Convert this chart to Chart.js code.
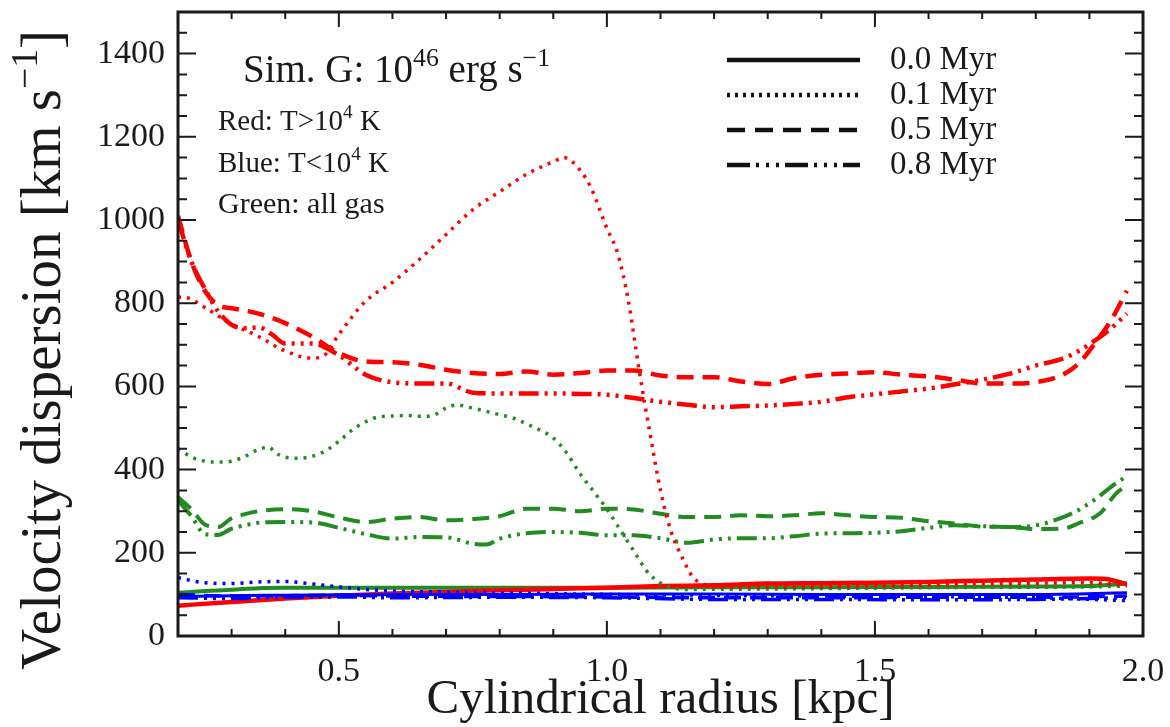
<!DOCTYPE html>
<html>
<head>
<meta charset="utf-8">
<title>Velocity dispersion vs cylindrical radius</title>
<script src="https://cdn.jsdelivr.net/npm/chart.js@4.4.1/dist/chart.umd.min.js"></script>
<style>
  html, body { margin: 0; padding: 0; background: #ffffff; }
  #wrap { width: 1170px; height: 727px; position: relative; }
</style>
</head>
<body>
<div id="wrap"><canvas id="chart"></canvas></div>
<script>
// ---- data: velocity dispersion [km/s] against cylindrical radius [kpc] ----
const snapshotTimes = ['0.0 Myr', '0.1 Myr', '0.5 Myr', '0.8 Myr'];
const xTickValues = [0.5, 1.0, 1.5, 2.0];
const yTickValues = [0, 200, 400, 600, 800, 1000, 1200, 1400];

// hot gas, T > 1e4 K (red)
const rRed00 = [0.20,0.30,0.40,0.50,0.60,0.70,0.80,0.90,1.00,1.10,1.20,1.30,1.40,1.50,1.60,1.70,1.80,1.90,1.93,1.97];
const vRed00 = [73,82,90,97,102,106,110,113,116,120,122,126,127,128,130,133,136,138,137,125];
const rRed01 = [0.20,0.22,0.25,0.30,0.35,0.40,0.45,0.47,0.50,0.55,0.60,0.65,0.70,0.75,0.80,0.85,0.90,0.92,0.95,0.97,1.00,1.02,1.04,1.06,1.08,1.10,1.12,1.14,1.16,1.18,1.20,1.30,1.50,1.70,1.90,1.97];
const vRed01 = [815,812,790,750,720,685,668,672,725,805,850,905,965,1025,1068,1110,1140,1150,1120,1078,980,920,806,640,490,350,250,190,142,125,118,118,120,125,128,122];
const rRed05 = [0.20,0.225,0.25,0.275,0.30,0.35,0.40,0.45,0.50,0.55,0.60,0.65,0.70,0.75,0.80,0.85,0.90,0.95,1.00,1.05,1.10,1.15,1.20,1.25,1.30,1.35,1.40,1.45,1.50,1.55,1.60,1.65,1.70,1.75,1.80,1.85,1.88,1.91,1.94,1.97];
const vRed05 = [1010,900,830,795,788,775,752,720,680,660,658,652,640,632,630,636,628,632,638,638,626,622,622,612,606,620,628,631,634,628,624,616,607,607,610,628,655,703,758,830];
const rRed08 = [0.20,0.225,0.25,0.275,0.30,0.325,0.35,0.375,0.40,0.45,0.50,0.55,0.60,0.65,0.70,0.75,0.80,0.85,0.90,0.95,1.00,1.05,1.10,1.15,1.20,1.25,1.30,1.35,1.40,1.45,1.50,1.55,1.60,1.65,1.70,1.75,1.80,1.85,1.88,1.91,1.94,1.97];
const vRed08 = [1000,900,835,780,748,740,742,725,703,703,675,628,610,607,607,585,583,583,583,582,580,572,563,556,550,552,554,558,563,574,581,588,595,605,616,630,650,667,685,710,739,775];

// cold gas, T < 1e4 K (blue)
const rBlu00 = [0.20,0.30,0.40,0.50,0.60,0.80,1.00,1.20,1.40,1.60,1.80,1.97];
const vBlu00 = [95,97,98,99,100,100,101,101,100,100,100,104];
const rBlu01 = [0.20,0.25,0.30,0.35,0.40,0.45,0.50,0.55,0.60,0.70,0.80,0.90,1.00,1.20,1.40,1.60,1.80,1.97];
const vBlu01 = [140,128,126,130,131,125,118,112,108,106,104,102,100,98,96,95,92,85];
const rBlu05 = [0.20,0.30,0.40,0.50,0.60,0.80,1.00,1.20,1.40,1.60,1.80,1.97];
const vBlu05 = [100,96,97,98,96,95,94,92,92,93,93,96];
const rBlu08 = [0.20,0.30,0.40,0.50,0.60,0.80,1.00,1.20,1.40,1.60,1.80,1.97];
const vBlu08 = [92,90,93,94,92,93,92,88,88,87,88,92];

// all gas (green)
const rGrn00 = [0.20,0.25,0.30,0.35,0.40,0.50,0.60,0.70,0.80,0.90,1.00,1.20,1.40,1.60,1.80,1.90,1.97];
const vGrn00 = [104,108,111,115,116,116,116,116,116,116,116,117,117,118,119,120,126];
const rGrn01 = [0.20,0.225,0.25,0.275,0.30,0.325,0.35,0.37,0.38,0.40,0.42,0.45,0.475,0.50,0.525,0.55,0.575,0.60,0.625,0.65,0.675,0.70,0.72,0.75,0.775,0.80,0.825,0.85,0.875,0.90,0.925,0.95,0.975,1.00,1.025,1.05,1.075,1.10,1.125,1.15,1.30,1.50,1.70,1.90,1.97];
const vGrn01 = [451,430,420,418,420,432,448,454,442,430,427,432,445,468,495,515,527,529,530,528,530,548,555,548,540,532,524,510,495,476,440,390,348,305,255,205,155,127,115,112,113,115,117,118,120];
const rGrn05 = [0.20,0.225,0.25,0.275,0.30,0.325,0.35,0.40,0.45,0.50,0.55,0.60,0.65,0.70,0.75,0.80,0.85,0.90,0.95,1.00,1.05,1.10,1.15,1.20,1.25,1.30,1.35,1.40,1.45,1.50,1.55,1.60,1.65,1.70,1.75,1.80,1.85,1.88,1.92,1.95,1.97];
const vGrn05 = [334,305,268,262,283,293,300,305,300,285,274,282,286,278,281,288,306,306,300,306,304,294,286,286,290,288,290,295,290,286,284,276,270,263,262,257,258,271,295,343,362];
const rGrn08 = [0.20,0.225,0.25,0.275,0.30,0.325,0.35,0.40,0.45,0.50,0.55,0.60,0.65,0.70,0.75,0.775,0.80,0.85,0.90,0.95,1.00,1.05,1.10,1.15,1.20,1.25,1.30,1.35,1.40,1.45,1.50,1.55,1.60,1.65,1.70,1.75,1.80,1.85,1.88,1.91,1.94,1.97];
const vGrn08 = [326,288,245,243,258,266,272,274,273,260,245,234,238,237,222,220,234,247,250,248,242,242,235,224,232,235,235,240,246,247,248,252,260,266,264,262,266,285,303,328,358,385];

// ---- styling ----
const RED = '#ff0000';
const BLUE = '#0000ff';
const GREEN = '#228b22';
const SERIF = '"Liberation Serif", "DejaVu Serif", serif';

// line patterns per snapshot time (solid, dotted, dashed, dash-dot-dot-dot)
const plotDash = [[], [3, 6], [17, 9], [20, 6, 3, 6, 3, 6, 3, 6]];
const legendDash = [[], [3, 5], [18, 10], [23, 6, 3, 7, 3, 7, 3, 6]];

function pairs(r, v) { return r.map((x, i) => ({ x: x, y: v[i] })); }

function series(label, r, v, color, timeIdx, width) {
  return {
    label: label,
    data: pairs(r, v),
    borderColor: color,
    backgroundColor: color,
    borderWidth: width,
    borderDash: plotDash[timeIdx],
    borderCapStyle: 'butt',
    pointRadius: 0,
    pointHoverRadius: 0,
    fill: false,
    cubicInterpolationMode: 'monotone'
  };
}

const datasets = [
  series('hot 0.1 Myr', rRed01, vRed01, RED, 1, 3.5),
  series('hot 0.5 Myr', rRed05, vRed05, RED, 2, 4.5),
  series('hot 0.8 Myr', rRed08, vRed08, RED, 3, 4.5),
  series('all 0.1 Myr', rGrn01, vGrn01, GREEN, 1, 3.5),
  series('all 0.5 Myr', rGrn05, vGrn05, GREEN, 2, 4),
  series('all 0.8 Myr', rGrn08, vGrn08, GREEN, 3, 4),
  series('cold 0.1 Myr', rBlu01, vBlu01, BLUE, 1, 3.5),
  series('cold 0.5 Myr', rBlu05, vBlu05, BLUE, 2, 3.5),
  series('cold 0.8 Myr', rBlu08, vBlu08, BLUE, 3, 3.5),
  series('cold 0.0 Myr', rBlu00, vBlu00, BLUE, 0, 3),
  series('hot 0.0 Myr', rRed00, vRed00, RED, 0, 4.5),
  series('all 0.0 Myr', rGrn00, vGrn00, GREEN, 0, 4)
];

// draw a run of text pieces, some raised as superscripts
function richText(ctx, parts, x, y, size) {
  let cx = x;
  for (const [t, sup] of parts) {
    const fs = sup ? size * 0.66 : size;
    ctx.font = fs + 'px ' + SERIF;
    ctx.fillText(t, cx, sup ? y - size * 0.4 : y);
    cx += ctx.measureText(t).width;
  }
  return cx - x;
}
function richWidth(ctx, parts, size) {
  let w = 0;
  for (const [t, sup] of parts) {
    ctx.font = (sup ? size * 0.66 : size) + 'px ' + SERIF;
    w += ctx.measureText(t).width;
  }
  return w;
}

// box frame with inward major/minor ticks on all four sides
const framePlugin = {
  id: 'frame',
  afterDatasetsDraw(chart) {
    const { ctx, chartArea: a, scales } = chart;
    const xs = scales.x, ys = scales.y;
    ctx.save();
    ctx.strokeStyle = '#1a1a1a';
    ctx.lineWidth = 2;
    ctx.beginPath();
    for (let i = 0; i <= 30; i++) {
      const v = i * 50;
      const py = ys.getPixelForValue(v);
      const len = (v % 200 === 0) ? 18 : 9;
      ctx.moveTo(a.left, py); ctx.lineTo(a.left + len, py);
      ctx.moveTo(a.right, py); ctx.lineTo(a.right - len, py);
    }
    for (let i = 2; i <= 20; i++) {
      const px = xs.getPixelForValue(i / 10);
      const len = (i % 5 === 0) ? 15 : 7;
      ctx.moveTo(px, a.bottom); ctx.lineTo(px, a.bottom - len);
      ctx.moveTo(px, a.top); ctx.lineTo(px, a.top + len);
    }
    ctx.stroke();
    ctx.lineWidth = 3;
    ctx.strokeRect(a.left, a.top, a.right - a.left, a.bottom - a.top);
    ctx.restore();
  }
};

// in-panel text, line-style key and the rotated y-axis title
const notesPlugin = {
  id: 'notes',
  afterDraw(chart) {
    const ctx = chart.ctx;
    ctx.save();
    ctx.fillStyle = '#1a1a1a';
    ctx.textBaseline = 'alphabetic';
    ctx.textAlign = 'left';

    richText(ctx, [['Sim. G: 10', false], ['46', true], [' erg s', false], ['\u22121', true]], 243, 82, 39);
    richText(ctx, [['Red: T>10', false], ['4', true], [' K', false]], 218, 130, 29);
    richText(ctx, [['Blue: T<10', false], ['4', true], [' K', false]], 218, 172, 29);
    richText(ctx, [['Green: all gas', false]], 218, 213, 30);

    // key for the snapshot times
    for (let i = 0; i < snapshotTimes.length; i++) {
      const ly = 60 + i * 35;
      ctx.save();
      ctx.strokeStyle = '#111';
      ctx.lineWidth = 4.5;
      ctx.lineCap = 'butt';
      ctx.setLineDash(legendDash[i]);
      ctx.beginPath();
      ctx.moveTo(727, ly);
      ctx.lineTo(860, ly);
      ctx.stroke();
      ctx.restore();
      ctx.font = '33px ' + SERIF;
      ctx.fillText(snapshotTimes[i], 890, ly + 9);
    }

    // y-axis title, reading bottom to top
    const yParts = [['Velocity dispersion [km s', false], ['\u22121', true], [']', false]];
    const size = 57;
    const w = richWidth(ctx, yParts, size);
    ctx.translate(60, 350);
    ctx.rotate(-Math.PI / 2);
    richText(ctx, yParts, -w / 2, 0, size);
    ctx.restore();
  }
};

new Chart(document.getElementById('chart'), {
  type: 'line',
  data: { datasets: datasets },
  options: {
    responsive: true,
    maintainAspectRatio: false,
    animation: false,
    events: [],
    layout: { padding: { top: 12, right: 27, bottom: 0, left: 0 } },
    plugins: {
      legend: { display: false },
      tooltip: { enabled: false }
    },
    scales: {
      x: {
        type: 'linear',
        min: 0.2,
        max: 2.0,
        grid: { display: false, drawTicks: false },
        border: { display: false },
        afterBuildTicks: (s) => { s.ticks = xTickValues.map(v => ({ value: v })); },
        afterFit: (s) => { s.height = 91; s.paddingLeft = 0; s.paddingRight = 0; },
        ticks: {
          color: '#1a1a1a',
          padding: 16,
          maxRotation: 0,
          autoSkip: false,
          font: { family: SERIF, size: 34, lineHeight: 1.2 },
          callback: (v) => Number(v).toFixed(1)
        },
        title: {
          display: true,
          text: 'Cylindrical radius [kpc]',
          color: '#1a1a1a',
          font: { family: SERIF, size: 49, lineHeight: 1 },
          padding: { top: 0, bottom: 2 }
        }
      },
      y: {
        type: 'linear',
        min: 0,
        max: 1500,
        grid: { display: false, drawTicks: false },
        border: { display: false },
        afterBuildTicks: (s) => { s.ticks = yTickValues.map(v => ({ value: v })); },
        afterFit: (s) => { s.width = 178; s.paddingTop = 0; s.paddingBottom = 0; },
        ticks: {
          color: '#1a1a1a',
          padding: 13,
          autoSkip: false,
          font: { family: SERIF, size: 34 },
          callback: (v) => String(v)
        }
      }
    }
  },
  plugins: [framePlugin, notesPlugin]
});
</script>
</body>
</html>
